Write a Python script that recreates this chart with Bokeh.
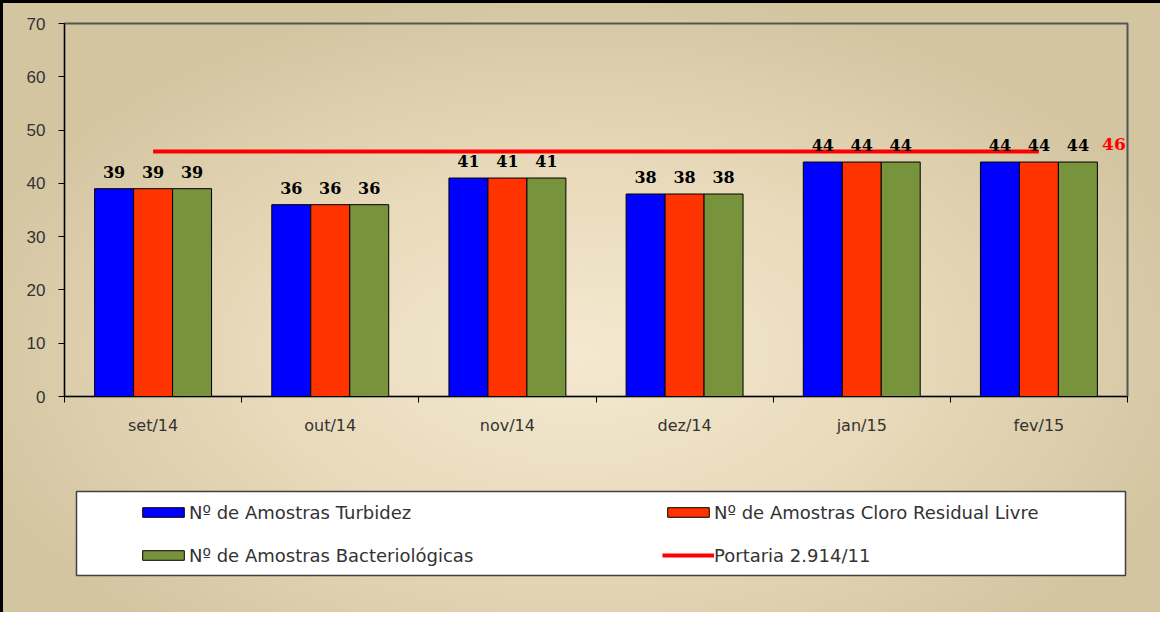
from bokeh.plotting import figure
from bokeh.models import ColumnDataSource, Range1d, FixedTicker, Legend, LegendItem
from bokeh.transform import dodge
from bokeh.layouts import column
from bokeh.embed import file_html
from bokeh.resources import INLINE
from bokeh.core.properties import value

# ---------------- data ----------------
months = ["set/14", "out/14", "nov/14", "dez/14", "jan/15", "fev/15"]
turbidez = [39, 36, 41, 38, 44, 44]
cloro = [39, 36, 41, 38, 44, 44]
bacterio = [39, 36, 41, 38, 44, 44]
portaria = [46, 46, 46, 46, 46, 46]
y_ticks = [0, 10, 20, 30, 40, 50, 60, 70]
names = ["Nº de Amostras Turbidez", "Nº de Amostras Cloro Residual Livre",
         "Nº de Amostras Bacteriológicas", "Portaria 2.914/11"]

# ---------------- styles ----------------
BLUE, RED, GREEN, LINE_RED = "#0000FF", "#FF3300", "#77933C", "#FF0000"
BAR_W, OFF = 0.22, 0.22

pos = [i + 0.5 for i in range(len(months))]
src = ColumnDataSource(dict(
    x=pos, turbidez=turbidez, cloro=cloro, bacterio=bacterio, portaria=portaria,
    t_lbl=[str(v) for v in turbidez], c_lbl=[str(v) for v in cloro],
    b_lbl=[str(v) for v in bacterio]))

p = figure(width=1160, height=462, x_range=Range1d(0, len(months)), y_range=Range1d(0, 70),
           output_backend="svg", toolbar_location=None, frame_align=False,
           min_border_left=64, min_border_right=33, min_border_top=23, min_border_bottom=66,
           border_fill_alpha=0, background_fill_alpha=0,
           outline_line_color="#555555", outline_line_width=2)
p.grid.visible = False

series = [("turbidez", "t_lbl", -OFF, BLUE), ("cloro", "c_lbl", 0.0, RED), ("bacterio", "b_lbl", OFF, GREEN)]
for col, lbl, off, colr in series:
    p.vbar(x=dodge("x", off, range=p.x_range), top=col, width=BAR_W, source=src,
           fill_color=colr, line_color="black", line_width=1)

p.line(x="x", y="portaria", source=src, line_color=LINE_RED, line_width=4)

for col, lbl, off, colr in series:
    p.text(x=dodge("x", off, range=p.x_range), y=col, text=lbl, source=src,
           text_align="center", text_baseline="middle", y_offset=-17,
           text_font=value("DejaVu Serif"), text_font_style="bold",
           text_font_size="16px", text_color="black")

last_src = ColumnDataSource(dict(x=[pos[-1]], y=[portaria[-1]], t=[str(portaria[-1])]))
p.text(x="x", y="y", text="t", source=last_src, x_offset=75, y_offset=-7,
       text_align="center", text_baseline="middle",
       text_font=value("DejaVu Serif"), text_font_style="bold",
       text_font_size="17px", text_color=LINE_RED)

# y axis
ya = p.yaxis[0]
ya.ticker = FixedTicker(ticks=y_ticks)
ya.major_tick_out = 6
ya.major_tick_in = 0
ya.minor_tick_line_color = None
ya.axis_line_color = "black"
ya.major_tick_line_color = "black"
ya.major_label_standoff = 13
ya.major_label_text_font = "Liberation Sans"
ya.major_label_text_font_size = "17px"
ya.major_label_text_color = "#333333"

# x axis
xa = p.xaxis[0]
xa.ticker = FixedTicker(ticks=pos, minor_ticks=list(range(len(months) + 1)))
xa.major_label_overrides = {pv: m for pv, m in zip(pos, months)}
xa.major_tick_line_color = None
xa.major_tick_out = 6
xa.major_tick_in = 0
xa.minor_tick_out = 6
xa.minor_tick_in = 0
xa.minor_tick_line_color = "black"
xa.axis_line_color = "black"
xa.major_label_standoff = 13
xa.major_label_text_font = "DejaVu Sans"
xa.major_label_text_font_size = "16px"
xa.major_label_text_color = "#333333"

# ---------------- legend panel ----------------
# legend swatches come from renderers of the same data; the renderers themselves are not drawn
leg = figure(width=1160, height=150, x_range=Range1d(0, len(months)), y_range=Range1d(1000, 1001),
             x_axis_type=None, y_axis_type=None, frame_align=False,
             output_backend="svg", toolbar_location=None,
             min_border_left=76, min_border_right=35, min_border_top=29, min_border_bottom=37,
             border_fill_alpha=0, background_fill_color="white",
             outline_line_color="#404040", outline_line_width=1.5)
leg.grid.visible = False

r_t = leg.vbar(x="x", top="turbidez", width=BAR_W, source=src, fill_color=BLUE, line_color="black")
r_c = leg.vbar(x="x", top="cloro", width=BAR_W, source=src, fill_color=RED, line_color="black")
r_b = leg.vbar(x="x", top="bacterio", width=BAR_W, source=src, fill_color=GREEN, line_color="black")
r_p = leg.line(x="x", y="portaria", source=src, line_color=LINE_RED, line_width=4)
for r in (r_t, r_c, r_b, r_p):
    r.visible = False

common = dict(orientation="vertical", padding=0, margin=0, spacing=21,
              glyph_width=52, glyph_height=12, label_height=22, label_standoff=0,
              border_line_color=None, background_fill_alpha=0,
              label_text_font="DejaVu Sans", label_text_font_size="18px",
              label_text_color="#333333", click_policy="none")
l1 = Legend(items=[LegendItem(label=names[0], renderers=[r_t]),
                   LegendItem(label=names[2], renderers=[r_b])],
            location=(61, 9), **common)
l2 = Legend(items=[LegendItem(label=names[1], renderers=[r_c]),
                   LegendItem(label=names[3], renderers=[r_p])],
            location=(586, 9), **common)
leg.add_layout(l1, "center")
leg.add_layout(l2, "center")

layout = column(p, leg, spacing=0, styles={
    "background": "radial-gradient(ellipse 55% 60% at 50% 58%, #F4E9D0 0%, #E8DABA 50%, #D4C5A1 100%)",
    "box-shadow": "inset 3px 3px 0 0 #000000",
})

open("out.html", "w").write(file_html(layout, INLINE))
